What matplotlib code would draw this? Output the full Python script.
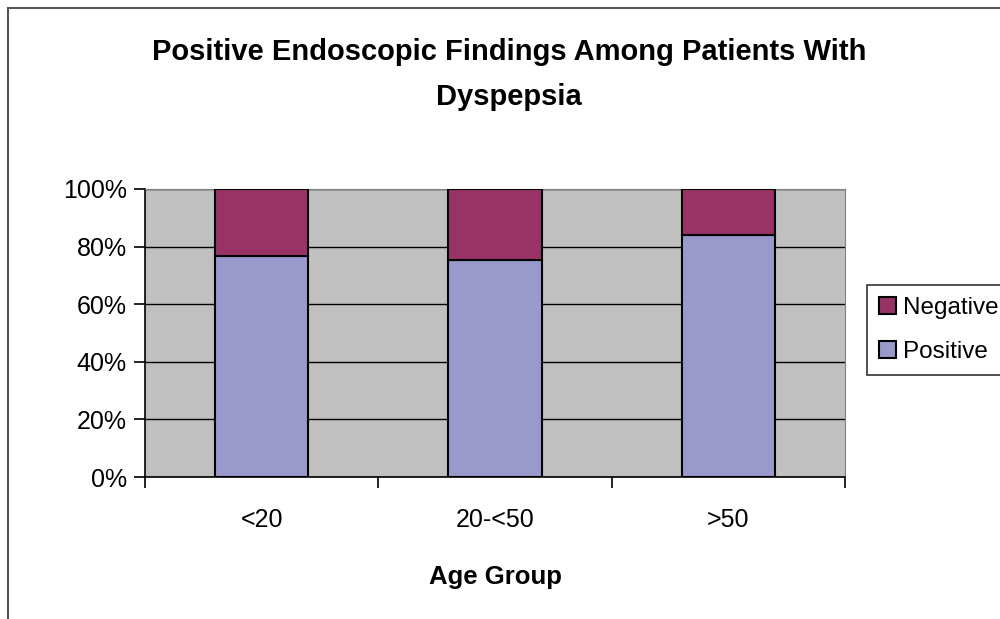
import numpy as np
import matplotlib.pyplot as plt
from matplotlib.patches import Rectangle

# Data (share of patients)
groups = ['<20', '20-<50', '>50']
positive = [76.7, 75.3, 84.0]
negative = [23.3, 24.7, 16.0]

plt.rcParams['font.family'] = ['Liberation Sans', 'DejaVu Sans']

fig = plt.figure(figsize=(10, 6.19), dpi=100)
ax = fig.add_axes([0.145, 0.2294, 0.70, 0.4653])
ax.set_facecolor('#C0C0C0')

x = np.arange(len(groups))
pos_bars = ax.bar(x, positive, width=0.4, color='#9999CC', edgecolor='black',
                  linewidth=1.5, label='Positive', zorder=3)
neg_bars = ax.bar(x, negative, width=0.4, bottom=positive, color='#993366',
                  edgecolor='black', linewidth=1.5, label='Negative', zorder=3)

ax.set_xlim(-0.5, 2.5)
ax.set_ylim(0, 100)
ax.set_yticks(np.arange(0, 101, 20))
ax.set_yticklabels([f'{v}%' for v in range(0, 101, 20)], fontsize=18)
ax.yaxis.grid(True, color='black', linewidth=1.0, zorder=1)
ax.set_axisbelow(True)

# ticks on category boundaries, labels at centres
ax.set_xticks([-0.5, 0.5, 1.5, 2.5])
ax.set_xticklabels([])
ax.set_xticks(x, minor=True)
ax.set_xticklabels(groups, minor=True, fontsize=18)
ax.tick_params(axis='x', which='minor', length=0, pad=22)
ax.tick_params(axis='x', which='major', length=8, width=1.2)
ax.tick_params(axis='y', length=8, width=1.2, pad=5)

for side in ['top', 'right']:
    ax.spines[side].set_color('#808080')
for side in ['left', 'bottom']:
    ax.spines[side].set_color('black')
    ax.spines[side].set_linewidth(1.2)

ax.set_xlabel('Age Group', fontsize=18.5, fontweight='bold', labelpad=24)
fig.text(0.509, 1 - 52 / 619, 'Positive Endoscopic Findings Among Patients With',
         ha='center', va='center', fontsize=21, fontweight='bold')
fig.text(0.509, 1 - 97 / 619, 'Dyspepsia',
         ha='center', va='center', fontsize=21, fontweight='bold')

leg = fig.legend(handles=[neg_bars, pos_bars], labels=['Negative', 'Positive'],
                 loc='upper left', bbox_to_anchor=(0.867, 1 - 285 / 619),
                 fontsize=17.5, frameon=True, fancybox=False, edgecolor='black',
                 handlelength=0.7, handleheight=0.7, handletextpad=0.3,
                 labelspacing=0.9, borderpad=0.5, borderaxespad=0)
leg.get_frame().set_linewidth(1.2)

# outer chart border (left and top edges visible)
fig.patches.append(Rectangle((8 / 1000, -0.1), 1.2, 1.1 - 7.5 / 619,
                             transform=fig.transFigure, fill=False,
                             edgecolor='#555555', linewidth=1.5))

fig.savefig('out.png', dpi=100)
